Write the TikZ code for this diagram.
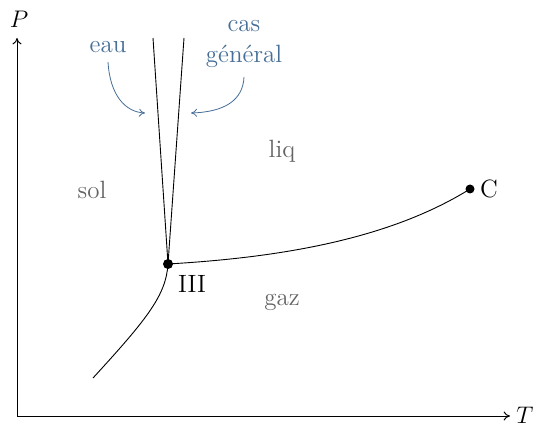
\documentclass[tikz,border=0pt]{standalone}
\usetikzlibrary{arrows.meta}
\definecolor{bluelab}{RGB}{70,110,150}
\definecolor{graylab}{RGB}{100,100,100}
\newcommand{\labfont}{\fontsize{12.5pt}{15pt}\selectfont}
\begin{document}
\begin{tikzpicture}[x=0.5pt,y=-0.5pt,
  region/.style={text=graylab,font=\labfont,anchor=base},
  bluetext/.style={text=bluelab,font=\labfont,anchor=base},
  ptlab/.style={font=\labfont,anchor=base},
  curveline/.style={line width=0.45pt},
  bluearrow/.style={bluelab,line width=0.4pt,-{To[length=3pt,width=4pt]}},
  axis/.style={line width=0.5pt,-{To[length=3.2pt,width=4.5pt]}}]
\useasboundingbox (0,0) rectangle (534,426);
% axes
\coordinate (O) at (17,416);
\coordinate (Pend) at (17,38);
\coordinate (Tend) at (510,416);
\draw[axis] (O) -- (Pend);
\draw[axis] (O) -- (Tend);
\node[ptlab] (P) at (19,28) {$P$};
\node[ptlab] (T) at (525,423) {$T$};
% key points
\coordinate (III) at (168,264);
\coordinate (C) at (470,189);
\coordinate (eautop) at (153,38);
\coordinate (castop) at (184,38);
\coordinate (low) at (93,378);
\draw[curveline] (III) -- (eautop);
\draw[curveline] (III) -- (castop);
\draw[curveline] (III) .. controls (270,258) and (385,242) .. (C);
\draw[curveline] (III) .. controls (166,295) and (148,318) .. (low);
\fill (III) circle (5);
\fill (C) circle (4.5);
\node[ptlab] (IIIlab) at (192,293) {III};
\node[ptlab] (Clab) at (489,198) {C};
% regions
\node[region] (sol) at (92,199) {sol};
\node[region] (liq) at (282,158) {liq};
\node[region] (gaz) at (282,306) {gaz};
% blue labels
\node[bluetext] (eau) at (108,53) {eau};
\node[bluetext] (cas) at (244,32) {cas};
\node[bluetext] (gen) at (244,63) {général};
\coordinate (eauarr) at (145,113);
\coordinate (casarr) at (191,113);
\draw[bluearrow] (108,62) .. controls (110,95) and (125,112) .. (eauarr);
\draw[bluearrow] (244,77) .. controls (243,100) and (225,112) .. (casarr);
\end{tikzpicture}
\end{document}
